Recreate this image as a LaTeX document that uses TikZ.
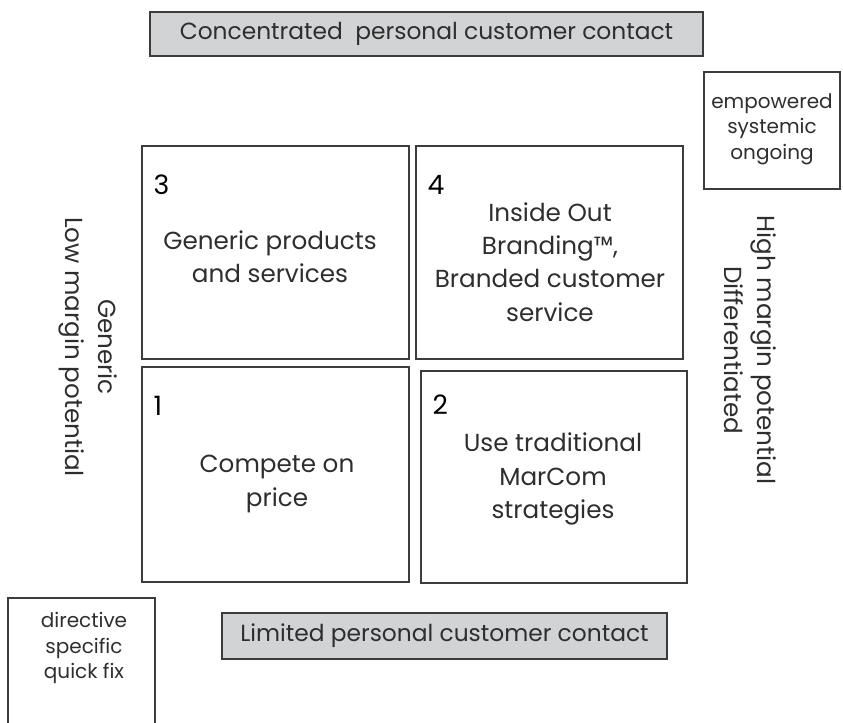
\documentclass[tikz,border=0pt]{standalone}
\usepackage{fontspec}
\setmainfont{Poppins}
\usetikzlibrary{positioning}

\definecolor{boxline}{HTML}{3C3C3C}
\definecolor{boxfill}{HTML}{D2D3D5}
\definecolor{ink}{HTML}{2E2E2E}

\begin{document}
\begin{tikzpicture}[x=0.75pt,y=-0.75pt,
    cell/.style={rectangle,draw=boxline,line width=1pt,inner sep=0pt},
    banner/.style={cell,fill=boxfill,text=ink,font=\fontsize{17.5}{21}\selectfont},
    body/.style={align=center,text=ink,font=\fontsize{18.5}{25}\selectfont},
    small/.style={align=center,text=ink,font=\fontsize{15}{19}\selectfont},
    num/.style={anchor=north west,inner sep=0pt,text=black,font=\fontsize{20}{24}\selectfont}]
\useasboundingbox (0,0) rectangle (843,723);

% banners top and bottom
\node[banner,minimum width=414.75pt,minimum height=33pt] (top) at (426.5,34) {Concentrated\ \ personal customer contact};
\node[banner,minimum width=333.75pt,minimum height=34.5pt] (bot) at (444.5,636) {Limited personal customer contact};

% the four quadrants
\node[cell,minimum width=200.25pt,minimum height=159.75pt] (q3) at (275.5,252.5) {};
\node[cell,minimum width=200.25pt,minimum height=159.75pt] (q4) at (549.5,252.5) {};
\node[cell,minimum width=200.25pt,minimum height=161.25pt] (q1) at (275.5,474.5) {};
\node[cell,minimum width=199.5pt,minimum height=159pt] (q2) at (554,477) {};

\node[num] (n3) at ([xshift=9pt,yshift=-22pt]q3.north west) {3};
\node[num] (n4) at ([xshift=9pt,yshift=-22pt]q4.north west) {4};
\node[num] (n1) at ([xshift=9pt,yshift=-22pt]q1.north west) {1};
\node[num] (n2) at ([xshift=9pt,yshift=-18pt]q2.north west) {2};

\node[body] (t3) at (270,257) {Generic products\\and services};
\node[body] (t4) at (550,262) {Inside Out\\Branding™,\\Branded customer\\service};
\node[body] (t1) at (277,484) {Compete on\\price};
\node[body] (t2) at (553,479) {Use traditional\\MarCom\\strategies};

% corner notes
\node[cell,minimum width=102pt,minimum height=87.75pt] (emp) at (772,130.5) {};
\node[small] (empt) at (772,129) {empowered\\systemic\\ongoing};
\coordinate[] (dnw) at (8,598);
\coordinate[] (dne) at (155,598);
\draw[boxline,line width=1pt] (dnw |- 0,730) -- (dnw) -- (dne) -- (dne |- 0,730);
\node[small] (dirt) at (84,648) {directive\\specific\\quick fix};

% axis labels
\node[body,rotate=-90] (lo) at (88,347) {Generic\\Low margin potential};
\node[body,rotate=-90] (hi) at (750,350) {High margin potential\\Differentiated};
\end{tikzpicture}
\end{document}
